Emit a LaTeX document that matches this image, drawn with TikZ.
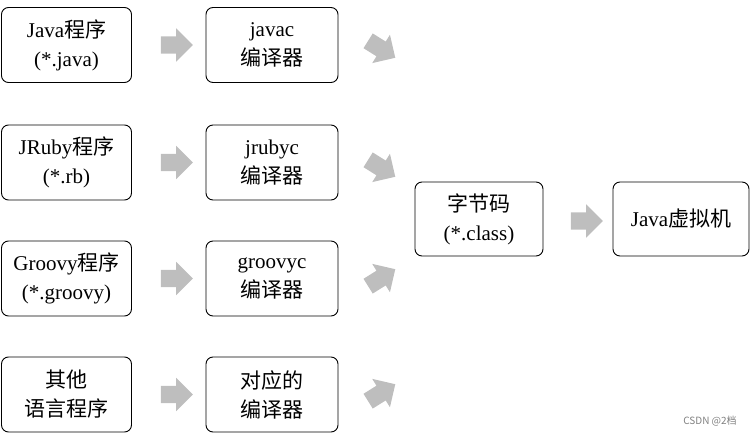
\documentclass[tikz,border=0pt]{standalone}
\usepackage{fontspec}
\setmainfont{Liberation Serif}
\newfontfamily\cjk{Noto Sans CJK SC}
\usetikzlibrary{shapes.arrows}
\definecolor{arrowgray}{RGB}{190,190,190}
\newcommand{\zh}[1]{{\cjk #1}}

\begin{document}
\begin{tikzpicture}[x=1pt, y=-1pt,
  font=\fontsize{21}{29}\selectfont,
  box/.style={draw, line width=0.9pt, rounded corners=7pt, align=center,
    minimum width=#1, minimum height=75pt, inner sep=0pt},
  box/.default=130pt,
  blk/.style={single arrow, fill=arrowgray, inner xsep=0pt, inner ysep=8.5pt,
    single arrow head extend=8pt, minimum height=32pt, rotate=#1},
  blk/.default=0]
  \useasboundingbox (0,0) rectangle (750,435);
  % source programs
  \node[box] (java)   at (66.5,45)    {Java\zh{程序}\\(*.java)};
  \node[box] (jruby)  at (66.5,162.5) {JRuby\zh{程序}\\(*.rb)};
  \node[box] (groovy) at (66.5,278.5) {Groovy\zh{程序}\\(*.groovy)};
  \node[box] (other)  at (66.5,394.5) {\zh{其他}\\\zh{语言程序}};
  % compilers
  \node[box=132pt] (javac)   at (272,45)    {javac\\\zh{编译器}};
  \node[box=132pt] (jrubyc)  at (272,162.5) {jrubyc\\\zh{编译器}};
  \node[box=132pt] (groovyc) at (272,278.5) {groovyc\\\zh{编译器}};
  \node[box=132pt] (otherc)  at (272,394.5) {\zh{对应的}\\\zh{编译器}};
  % bytecode and vm
  \node[box=128pt, minimum height=74pt] (code) at (479,219) {\zh{字节码}\\(*.class)};
  \node[box=136pt, minimum height=74pt] (jvm)  at (681,219) {Java\zh{虚拟机}};
  % block arrows
  \node[blk] (a1) at (172.5,45)    {};
  \node[blk] (a2) at (172.5,162.5) {};
  \node[blk] (a3) at (172.5,278.5) {};
  \node[blk] (a4) at (172.5,394.5) {};
  \node[blk=-32] (b1) at (378,47)  {};
  \node[blk=-32] (b2) at (378,166) {};
  \node[blk=32]  (b3) at (378,280) {};
  \node[blk=32]  (b4) at (378,395) {};
  \node[blk] (c1) at (582.5,221) {};
  \node[text=gray, font=\fontsize{10}{10}\selectfont\cjk] (mark) at (710,421) {CSDN @2档};
\end{tikzpicture}
\end{document}
